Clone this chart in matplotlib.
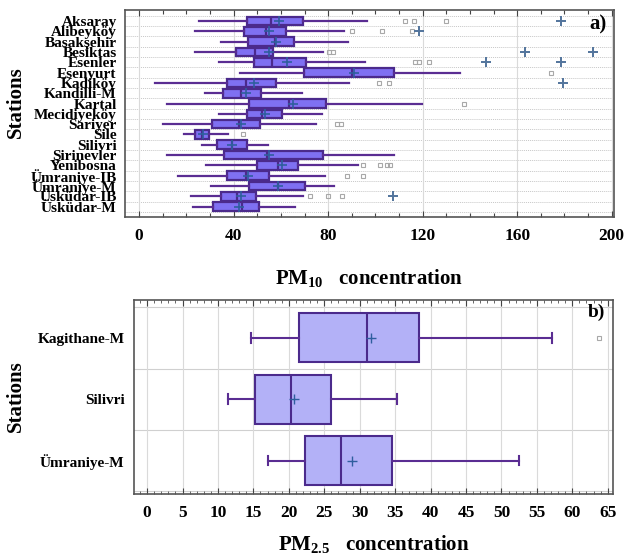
import matplotlib
matplotlib.use("Agg")
import matplotlib.pyplot as plt
from matplotlib.ticker import MultipleLocator
import numpy as np

plt.rcParams['font.family'] = ['Liberation Serif', 'DejaVu Serif']
plt.rcParams['font.weight'] = 'bold'
plt.rcParams['mathtext.fontset'] = 'custom'
plt.rcParams['mathtext.rm'] = 'Liberation Serif:bold'
plt.rcParams['mathtext.it'] = 'Liberation Serif:bold'
plt.rcParams['mathtext.bf'] = 'Liberation Serif:bold'

# ---------------- PM10 data (panel a) ----------------
pm10_stations = ["Aksaray", "Alibeyköy", "Basakşehir", "Besiktas", "Esenler", "Esenyurt",
                 "Kadiköy", "Kandilli-M", "Kartal", "Mecidiyeköy", "Sariyer", "Sile",
                 "Silivri", "Şirinevler", "Yenibosna", "Ümraniye-IB", "Ümraniye-M",
                 "Üsküdar-IB", "Üsküdar-M"]
pm10_whislo = [25.4, 23.6, 34.5, 23.6, 33.6, 42.7, 6.8, 27.7, 11.6, 33.6, 10.2, 18.8,
               26.7, 11.7, 28.3, 16.5, 30.4, 21.9, 22.6]
pm10_q1 = [45.5, 44.2, 46.2, 41.1, 48.5, 69.8, 37.3, 35.6, 46.5, 45.5, 30.7, 23.7,
           32.8, 35.9, 49.9, 37.0, 46.7, 34.5, 31.2]
pm10_med = [55.7, 53.5, 57.5, 49.0, 56.4, 90.0, 45.2, 43.2, 63.6, 52.0, 42.1, 26.4,
            39.4, 54.0, 58.6, 45.2, 58.6, 41.3, 43.6]
pm10_mean = [59.3, 54.8, 58.1, 54.8, 62.7, 91.1, 48.7, 45.1, 65.3, 53.3, 43.0, 27.1,
             39.4, 55.1, 60.5, 46.2, 58.6, 43.1, 42.4]
pm10_q3 = [69.5, 62.2, 65.7, 56.5, 70.6, 107.8, 57.8, 51.6, 79.0, 60.3, 51.1, 29.4,
           45.8, 78.0, 67.2, 54.8, 70.3, 49.6, 50.8]
pm10_whishi = [96.6, 86.7, 88.3, 78.0, 95.6, 135.9, 88.7, 68.8, 119.6, 77.3, 74.7, 37.7,
               54.4, 107.8, 92.8, 78.8, 82.6, 69.4, 65.8]
pm10_outliers = [[112.7, 116.5, 129.7], [90.3, 102.8, 115.5], [], [80.5, 82.0],
                 [116.8, 118.6, 122.5], [174.3], [101.4, 105.9], [], [137.6], [],
                 [83.6, 85.3], [43.9], [], [], [94.7, 102.0, 105.1, 106.2],
                 [88.0, 94.9], [], [72.5, 79.8, 85.9], []]
pm10_far = [[178.5], [118.6], [], [163.4, 192.1], [146.9, 178.4], [], [179.2], [], [], [],
            [], [], [], [], [], [], [], [107.3], []]

# ---------------- PM2.5 data (panel b) ----------------
pm25_stations = ["Kagithane-M", "Silivri", "Ümraniye-M"]
pm25_whislo = [14.6, 11.4, 17.0]
pm25_q1 = [21.4, 15.2, 22.3]
pm25_med = [31.1, 20.3, 27.3]
pm25_mean = [31.6, 20.8, 28.9]
pm25_q3 = [38.4, 25.9, 34.6]
pm25_whishi = [57.1, 35.2, 52.5]
pm25_outliers = [[63.7], [], []]


def make_stats(labels, lo, q1, med, mean, q3, hi, fl):
    return [dict(label=l, whislo=a, q1=b, med=c, mean=d, q3=e, whishi=f, fliers=g)
            for l, a, b, c, d, e, f, g in zip(labels, lo, q1, med, mean, q3, hi, fl)]


fig = plt.figure(figsize=(6.25, 5.55), dpi=100)

EDGE = '#4B2A8C'
WHISK = '#5A2D92'
MEANC = '#2F5E9E'

# ---------------- Panel a ----------------
ax1 = fig.add_axes([0.200, 0.6096, 0.7824, 0.3724])
n1 = len(pm10_stations)
pos1 = np.arange(n1)
stats1 = make_stats(pm10_stations, pm10_whislo, pm10_q1, pm10_med, pm10_mean,
                    pm10_q3, pm10_whishi, pm10_outliers)
ax1.bxp(stats1, positions=pos1, widths=0.84, orientation='horizontal',
        patch_artist=True, showmeans=True, showcaps=False,
        boxprops=dict(facecolor='#7F70F2', edgecolor=EDGE, linewidth=1.6),
        medianprops=dict(color=EDGE, linewidth=1.6),
        whiskerprops=dict(color=WHISK, linewidth=1.6),
        flierprops=dict(marker='s', markerfacecolor='none', markeredgecolor='#A8A8A8',
                        markersize=3.5, markeredgewidth=0.8),
        meanprops=dict(marker='+', markeredgecolor=MEANC, markersize=7.5, markeredgewidth=1.2))
for i, vals in enumerate(pm10_far):
    if vals:
        ax1.plot(vals, [pos1[i]] * len(vals), linestyle='none', marker='+',
                 color='#52749C', markersize=7, markeredgewidth=1.4, zorder=4)

ax1.set_xlim(-6, 201)
ax1.set_ylim(n1 - 0.03, -1.07)
ax1.set_yticks(pos1)
ax1.set_yticklabels(pm10_stations, fontsize=11, fontweight='bold')
ax1.xaxis.set_major_locator(MultipleLocator(40))
ax1.xaxis.set_minor_locator(MultipleLocator(10))
ax1.tick_params(axis='x', which='both', direction='in', top=True, bottom=True,
                labelsize=12.5, pad=8)
ax1.tick_params(axis='x', which='major', length=4, width=0.8, color='#444444')
ax1.tick_params(axis='x', which='minor', length=3, width=0.8, color='#444444')
ax1.tick_params(axis='y', length=0, pad=6)
ax1.set_axisbelow(True)
ax1.xaxis.grid(True, which='major', color='#DADADA', linewidth=0.8)
for y in np.arange(-0.5, n1, 1.0):
    ax1.axhline(y, color='#C8C8C8', linewidth=0.7, linestyle=(0, (1, 1)), zorder=0)
for s in ax1.spines.values():
    s.set_color('#555555')
    s.set_linewidth(1.2)
ax1.set_xlabel(r'PM$_{10}$   concentration', fontsize=15, fontweight='bold', labelpad=17)
ax1.text(0.985, 0.93, 'a)', transform=ax1.transAxes, ha='right', va='center',
         fontsize=15, fontweight='bold')
fig.text(0.026, 0.816, 'Stations', rotation=90, ha='center', va='center',
         fontsize=15, fontweight='bold')

# ---------------- Panel b ----------------
ax2 = fig.add_axes([0.2149, 0.1094, 0.7654, 0.3501])
n2 = len(pm25_stations)
pos2 = np.arange(n2)
stats2 = make_stats(pm25_stations, pm25_whislo, pm25_q1, pm25_med, pm25_mean,
                    pm25_q3, pm25_whishi, pm25_outliers)
ax2.bxp(stats2, positions=pos2, widths=0.8, orientation='horizontal',
        patch_artist=True, showmeans=True, showcaps=True, capwidths=0.16,
        boxprops=dict(facecolor='#B3B1F7', edgecolor=EDGE, linewidth=1.5),
        medianprops=dict(color=EDGE, linewidth=1.5),
        whiskerprops=dict(color=WHISK, linewidth=1.5),
        capprops=dict(color=WHISK, linewidth=1.5),
        flierprops=dict(marker='s', markerfacecolor='none', markeredgecolor='#A8A8A8',
                        markersize=3, markeredgewidth=0.8),
        meanprops=dict(marker='+', markeredgecolor=MEANC, markersize=7, markeredgewidth=1.0))

ax2.set_xlim(-1.8, 65.7)
ax2.set_ylim(n2 - 0.45, -0.62)
ax2.set_yticks(pos2)
ax2.set_yticklabels(pm25_stations, fontsize=11, fontweight='bold')
ax2.xaxis.set_major_locator(MultipleLocator(5))
ax2.xaxis.set_minor_locator(MultipleLocator(1))
ax2.tick_params(axis='x', which='both', direction='in', top=True, bottom=True,
                labelsize=12.5, pad=8)
ax2.tick_params(axis='x', which='major', length=4, width=0.8, color='#444444')
ax2.tick_params(axis='x', which='minor', length=2.5, width=0.7, color='#666666')
ax2.tick_params(axis='y', length=0, pad=7)
ax2.set_axisbelow(True)
ax2.xaxis.grid(True, which='major', color='#DADADA', linewidth=0.8)
for y in np.arange(-0.5, n2 + 0.5, 1.0):
    ax2.axhline(y, color='#D0D0D0', linewidth=0.8, zorder=0)
for s in ax2.spines.values():
    s.set_color('#555555')
    s.set_linewidth(1.2)
ax2.set_xlabel(r'PM$_{2.5}$   concentration', fontsize=15, fontweight='bold', labelpad=8)
ax2.text(0.985, 0.935, 'b)', transform=ax2.transAxes, ha='right', va='center',
         fontsize=14, fontweight='bold')
fig.text(0.026, 0.286, 'Stations', rotation=90, ha='center', va='center',
         fontsize=15, fontweight='bold')

fig.savefig('out.png', dpi=100)
